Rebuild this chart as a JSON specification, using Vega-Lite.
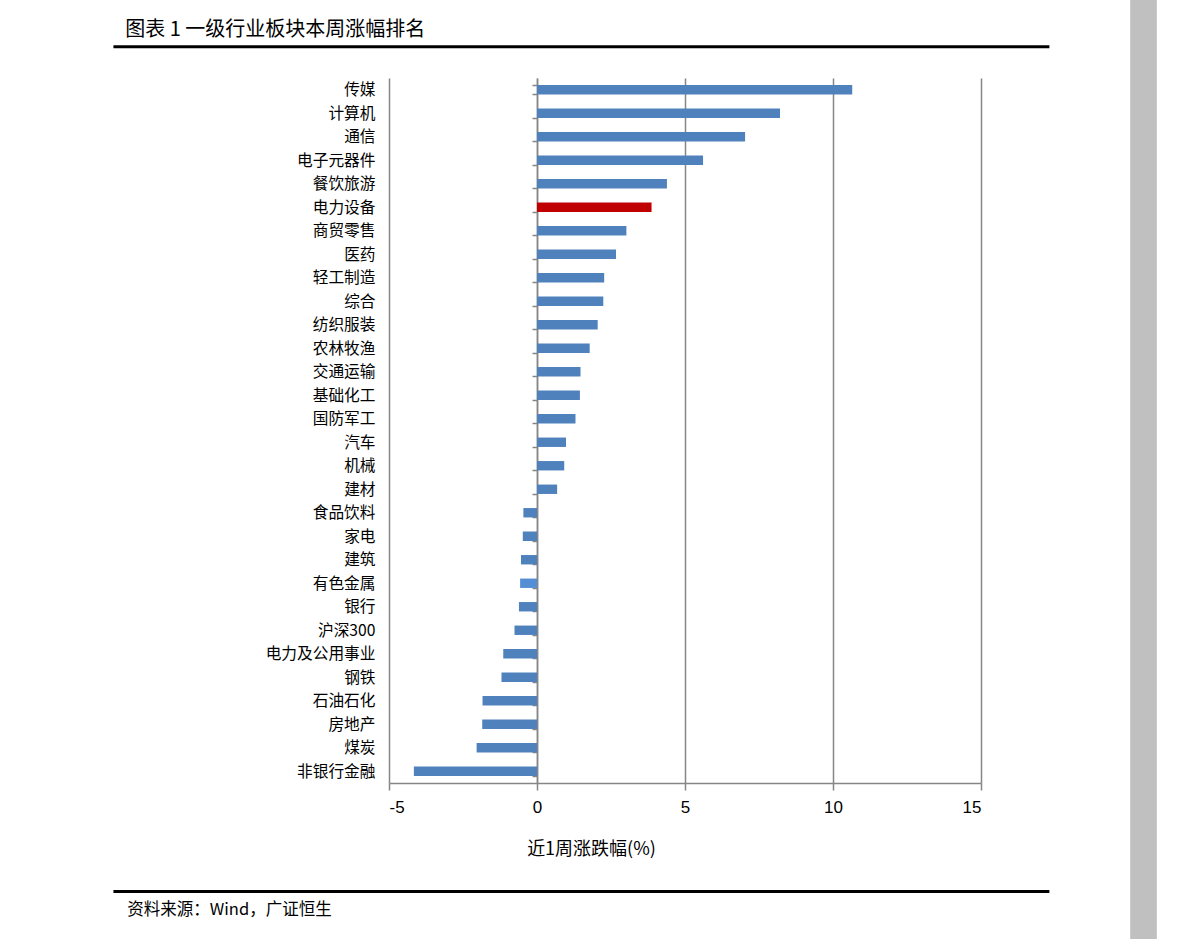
{
  "$schema": "https://vega.github.io/schema/vega-lite/v6.json",
  "autosize": "none",
  "width": 592,
  "height": 705,
  "padding": {"left": 389, "top": 78, "right": 210, "bottom": 156},
  "background": "white",
  "config": {"view": {"stroke": null}},
  "datasets": {
    "sectors": [
      {"name": "传媒", "value": 10.65, "kind": "普通"},
      {"name": "计算机", "value": 8.21, "kind": "普通"},
      {"name": "通信", "value": 7.03, "kind": "普通"},
      {"name": "电子元器件", "value": 5.61, "kind": "普通"},
      {"name": "餐饮旅游", "value": 4.39, "kind": "普通"},
      {"name": "电力设备", "value": 3.87, "kind": "重点"},
      {"name": "商贸零售", "value": 3.02, "kind": "普通"},
      {"name": "医药", "value": 2.67, "kind": "普通"},
      {"name": "轻工制造", "value": 2.27, "kind": "普通"},
      {"name": "综合", "value": 2.24, "kind": "普通"},
      {"name": "纺织服装", "value": 2.05, "kind": "普通"},
      {"name": "农林牧渔", "value": 1.78, "kind": "普通"},
      {"name": "交通运输", "value": 1.47, "kind": "普通"},
      {"name": "基础化工", "value": 1.45, "kind": "普通"},
      {"name": "国防军工", "value": 1.30, "kind": "普通"},
      {"name": "汽车", "value": 0.98, "kind": "普通"},
      {"name": "机械", "value": 0.92, "kind": "普通"},
      {"name": "建材", "value": 0.68, "kind": "普通"},
      {"name": "食品饮料", "value": -0.46, "kind": "普通"},
      {"name": "家电", "value": -0.48, "kind": "普通"},
      {"name": "建筑", "value": -0.54, "kind": "普通"},
      {"name": "有色金属", "value": -0.57, "kind": "其他"},
      {"name": "银行", "value": -0.61, "kind": "普通"},
      {"name": "沪深300", "value": -0.76, "kind": "普通"},
      {"name": "电力及公用事业", "value": -1.14, "kind": "普通"},
      {"name": "钢铁", "value": -1.20, "kind": "普通"},
      {"name": "石油石化", "value": -1.84, "kind": "普通"},
      {"name": "房地产", "value": -1.85, "kind": "普通"},
      {"name": "煤炭", "value": -2.04, "kind": "普通"},
      {"name": "非银行金融", "value": -4.16, "kind": "普通"}
    ],
    "lines": [
      {"x0": -14.31, "x1": 17.31, "row": -1.29},
      {"x0": -14.31, "x1": 17.31, "row": 33.46}
    ],
    "strip": [
      {"x0": 20.04, "x1": 20.94, "r0": -3.3, "r1": 35.5}
    ],
    "texts": [
      {"x": -13.91, "row": -1.97, "label": "图表 1 一级行业板块本周涨幅排名", "size": "title"},
      {"x": -13.84, "row": 34.22, "label": "资料来源：Wind，广证恒生", "size": "source"}
    ]
  },
  "layer": [
    {
      "data": {"name": "sectors"},
      "mark": {"type": "bar"},
      "encoding": {
        "y": {
          "field": "name",
          "type": "nominal",
          "sort": null,
          "scale": {"paddingInner": 0.6, "paddingOuter": 0.3},
          "axis": {
            "orient": "left",
            "offset": -148,
            "title": null,
            "grid": false,
            "tickBand": "extent",
            "tickSize": 5,
            "tickColor": "#868686",
            "tickWidth": 1.5,
            "domainColor": "#868686",
            "domainWidth": 1.5,
            "labelPadding": 157,
            "labelFont": "Noto Sans CJK SC",
            "labelFontSize": 15.7,
            "labelColor": "#000000"
          }
        },
        "x": {
          "field": "value",
          "type": "quantitative",
          "scale": {"domain": [-5, 15], "nice": false, "zero": false},
          "axis": {
            "values": [-5, 0, 5, 10, 15],
            "labelExpr": "replace(datum.label, '−', '-')",
            "grid": true,
            "gridColor": "#868686",
            "gridWidth": 1.5,
            "domainColor": "#868686",
            "domainWidth": 1.5,
            "tickColor": "#868686",
            "tickWidth": 1.5,
            "tickSize": 7,
            "labelFont": "Liberation Sans Narrow, Liberation Sans",
            "labelFontSize": 17,
            "labelColor": "#000000",
            "labelPadding": 9,
            "title": "近1周涨跌幅(%)",
            "titleFont": "Noto Sans CJK SC",
            "titleFontSize": 18,
            "titleFontWeight": "normal",
            "titleColor": "#000000",
            "titleX": 202,
            "titleY": 66,
            "titleAlign": "center",
            "titleBaseline": "middle"
          }
        },
        "color": {
          "field": "kind",
          "type": "nominal",
          "scale": {"domain": ["普通", "重点", "其他"], "range": ["#4F81BD", "#C00000", "#558ED5"]},
          "legend": null
        }
      }
    },
    {
      "data": {"name": "strip"},
      "mark": {"type": "rect", "color": "#C0C0C0"},
      "encoding": {
        "x": {"field": "x0", "type": "quantitative", "scale": {"domain": [-5, 15], "nice": false, "zero": false}, "axis": null},
        "x2": {"field": "x1"},
        "y": {"field": "r0", "type": "quantitative", "scale": {"domain": [0, 29], "nice": false, "zero": false, "reverse": true}, "axis": null},
        "y2": {"field": "r1"}
      }
    },
    {
      "data": {"name": "lines"},
      "mark": {"type": "rule", "color": "#000000", "strokeWidth": 3},
      "encoding": {
        "x": {"field": "x0", "type": "quantitative", "scale": {"domain": [-5, 15], "nice": false, "zero": false}, "axis": null},
        "x2": {"field": "x1"},
        "y": {"field": "row", "type": "quantitative", "scale": {"domain": [0, 29], "nice": false, "zero": false, "reverse": true}, "axis": null}
      }
    },
    {
      "data": {"name": "texts"},
      "mark": {"type": "text", "align": "left", "baseline": "middle", "font": "Noto Sans CJK SC", "color": "#000000"},
      "encoding": {
        "x": {"field": "x", "type": "quantitative", "scale": {"domain": [-5, 15], "nice": false, "zero": false}, "axis": null},
        "y": {"field": "row", "type": "quantitative", "scale": {"domain": [0, 29], "nice": false, "zero": false, "reverse": true}, "axis": null},
        "text": {"field": "label"},
        "size": {"field": "size", "type": "nominal", "scale": {"domain": ["title", "source"], "range": [20, 16.5]}, "legend": null}
      }
    }
  ],
  "resolve": {"scale": {"y": "independent", "x": "independent"}, "axis": {"x": "independent", "y": "independent"}}
}
